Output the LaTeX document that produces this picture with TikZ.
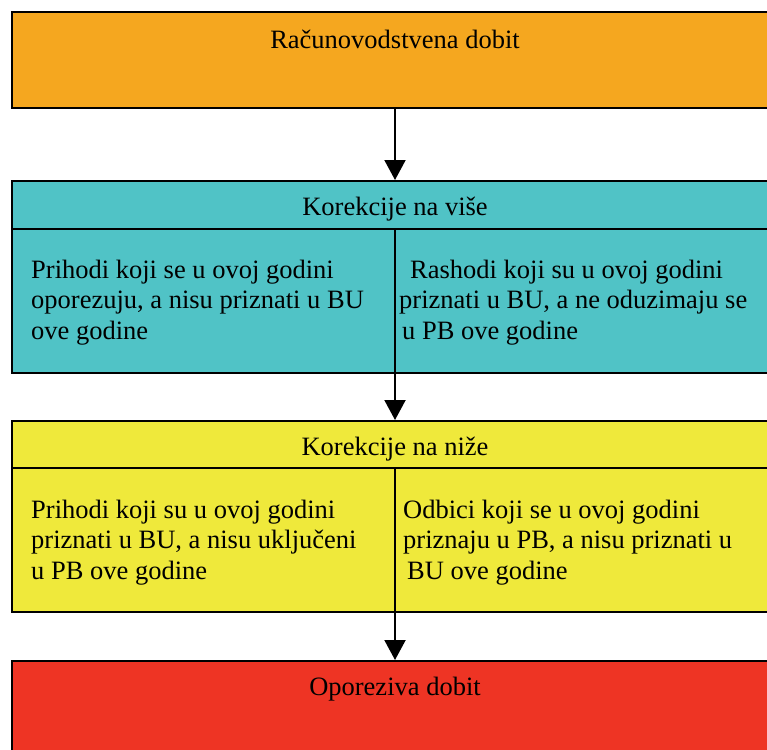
\documentclass[tikz,border=0pt]{standalone}
\usepackage{fontspec}
\setmainfont{Liberation Serif}
\usetikzlibrary{arrows.meta}
\definecolor{corange}{HTML}{F5A71F}
\definecolor{ccyan}{HTML}{50C3C6}
\definecolor{cyellow}{HTML}{EFE93B}
\definecolor{cred}{HTML}{EE3424}
\begin{document}
\begin{tikzpicture}[x=1pt,y=-1pt,
  box/.style={draw=black,line width=2pt,anchor=north west,inner sep=0pt,minimum width=790pt,minimum height=#1},
  divline/.style={draw=black,line width=2pt},
  flow/.style={draw=black,line width=2pt,-{Triangle[width=21pt,length=20pt]}},
  title/.style={anchor=base,inner sep=0pt,font=\fontsize{26.5}{30.5}\selectfont},
  txt/.style={anchor=north west,inner sep=0pt,align=left,font=\fontsize{26.5}{30.5}\selectfont}]
\useasboundingbox (0,0) rectangle (767,749);
\clip (0,0) rectangle (767,749);
\coordinate (mx) at (395,0);
% boxes
\node[box=96pt,fill=corange] (racun) at (11,11) {};
\node[box=48pt,fill=ccyan] (visehead) at (11,180) {};
\node[box=144pt,fill=ccyan] (visebody) at (11,228) {};
\node[box=48pt,fill=cyellow] (nizehead) at (11,420) {};
\node[box=144pt,fill=cyellow] (nizebody) at (11,467) {};
\node[box=120pt,fill=cred] (oporez) at (11,660) {};
% column dividers
\draw[divline] (visebody.north -| mx) -- (visebody.south -| mx);
\draw[divline] (nizebody.north -| mx) -- (nizebody.south -| mx);
% arrows
\draw[flow] (racun.south -| mx) -- (visehead.north -| mx);
\draw[flow] (visebody.south -| mx) -- (nizehead.north -| mx);
\draw[flow] (nizebody.south -| mx) -- (oporez.north -| mx);
% titles
\node[title] (t1) at (395,49) {Računovodstvena dobit};
\node[title] (t2) at (395,215) {Korekcije na više};
\node[title] (t3) at (395,455) {Korekcije na niže};
\node[title] (t4) at (395,695) {Oporeziva dobit};
% body texts
\node[txt] (v1) at (31,256.65) {\strut Prihodi koji se u ovoj godini\\oporezuju, a nisu priznati u BU\\ove godine};
\node[txt] (v2) at (399,256.65) {\strut\hspace*{11pt}Rashodi koji su u ovoj godini\\priznati u BU, a ne oduzimaju se\\\hspace*{3pt}u PB ove godine};
\node[txt] (n1) at (31,496.65) {\strut Prihodi koji su u ovoj godini\\priznati u BU, a nisu uključeni\\u PB ove godine};
\node[txt] (n2) at (403,496.65) {\strut Odbici koji se u ovoj godini\\priznaju u PB, a nisu priznati u\\\hspace*{4pt}BU ove godine};
\end{tikzpicture}
\end{document}
